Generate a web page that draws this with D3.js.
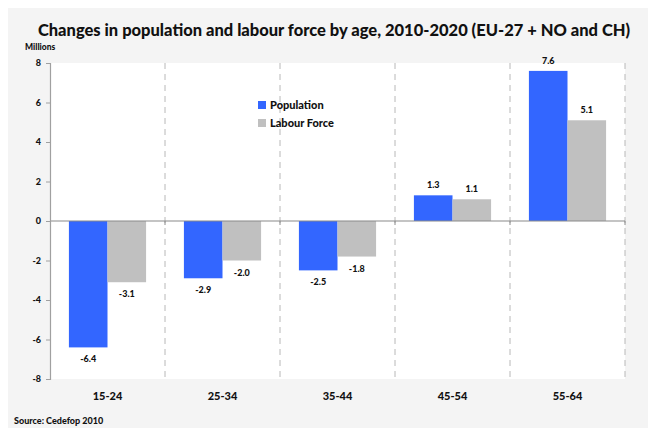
<!DOCTYPE html>
<html>
<head>
<meta charset="utf-8">
<script src="https://cdn.jsdelivr.net/npm/d3@7"></script>
<style>
  body { margin: 0; background: #fff; }
  text { font-family: Lato, "Open Sans", sans-serif; font-weight: 700; fill: #111; }
</style>
</head>
<body>
<div id="chart"></div>
<script>
const ageGroups = ["15-24", "25-34", "35-44", "45-54", "55-64"];
const population = [-6.4, -2.9, -2.5, 1.3, 7.6];
const labourForce = [-3.1, -2.0, -1.8, 1.1, 5.1];
const seriesNames = ["Population", "Labour Force"];
const seriesColors = ["#3366ff", "#c0c0c0"];
const yTicks = [-8, -6, -4, -2, 0, 2, 4, 6, 8];

const W = 648, H = 428;
const margin = { top: 63, right: 23, bottom: 49, left: 50 };
const width = W - margin.left - margin.right;
const height = H - margin.top - margin.bottom;

// hyphen instead of unicode minus, like the original
const fmt1 = v => d3.format(".1f")(v).replace("\u2212", "-");
const fmt0 = v => d3.format("d")(v).replace("\u2212", "-");

const svg = d3.select("#chart").append("svg")
  .attr("width", W).attr("height", H);

svg.append("rect")
  .attr("x", 8).attr("y", 8)
  .attr("width", W - 8).attr("height", H - 8)
  .attr("fill", "#f4f4f4");

svg.append("text")
  .attr("x", 334).attr("y", 36)
  .attr("text-anchor", "middle")
  .style("font-size", "16.5px")
  .style("font-weight", "900")
  .text("Changes in population and labour force by age, 2010-2020 (EU-27 + NO and CH)");

svg.append("text")
  .attr("x", 25).attr("y", 50)
  .style("font-size", "8.5px")
  .style("font-weight", "900")
  .text("Millions");

svg.append("text")
  .attr("x", 14).attr("y", 424)
  .style("font-size", "9px")
  .style("font-weight", "900")
  .text("Source: Cedefop 2010");

const g = svg.append("g")
  .attr("transform", `translate(${margin.left},${margin.top})`);

g.append("rect")
  .attr("width", width).attr("height", height)
  .attr("fill", "#fff");

const x0 = d3.scaleBand().domain(ageGroups).range([0, width]).paddingInner(0).paddingOuter(0);
const x1 = d3.scaleBand().domain(seriesNames).range([0, x0.bandwidth()]).paddingOuter(0.49).paddingInner(0);
const y = d3.scaleLinear().domain([-8, 8]).range([height, 0]);

// dashed category dividers
g.selectAll(".divider")
  .data(ageGroups)
  .join("line")
  .attr("x1", d => x0(d) + x0.bandwidth())
  .attr("x2", d => x0(d) + x0.bandwidth())
  .attr("y1", 0).attr("y2", height)
  .attr("stroke", "#b8b8b8")
  .attr("stroke-width", 1)
  .attr("stroke-dasharray", "6,5");

const rows = ageGroups.map((a, i) => ({ age: a, values: [population[i], labourForce[i]] }));

const groups = g.selectAll(".grp")
  .data(rows)
  .join("g")
  .attr("transform", d => `translate(${x0(d.age)},0)`);

groups.selectAll("rect")
  .data(d => d.values.map((v, j) => ({ name: seriesNames[j], v, j })))
  .join("rect")
  .attr("x", d => x1(d.name))
  .attr("width", x1.bandwidth())
  .attr("y", d => y(Math.max(0, d.v)))
  .attr("height", d => Math.abs(y(d.v) - y(0)))
  .attr("fill", d => seriesColors[d.j]);

groups.selectAll(".val")
  .data(d => d.values.map((v, j) => ({ name: seriesNames[j], v, j })))
  .join("text")
  .attr("class", "val")
  .attr("x", d => x1(d.name) + x1.bandwidth() / 2)
  .attr("y", d => d.v >= 0 ? y(d.v) - 7 : y(d.v) + 15)
  .attr("text-anchor", "middle")
  .style("font-size", "9px")
  .style("font-weight", "900")
  .text(d => fmt1(d.v));

// zero line with category ticks
const zero = g.append("g").attr("transform", `translate(0,${y(0)})`);
zero.append("line")
  .attr("x1", 0).attr("x2", width)
  .attr("stroke", "#8a8a8a").attr("stroke-width", 1.2);
zero.selectAll(".ztick")
  .data(ageGroups)
  .join("line")
  .attr("x1", d => x0(d) + x0.bandwidth())
  .attr("x2", d => x0(d) + x0.bandwidth())
  .attr("y1", 0).attr("y2", 4)
  .attr("stroke", "#8a8a8a");

// y axis
const yAxis = g.append("g")
  .call(d3.axisLeft(y).tickValues(yTicks).tickSize(4).tickPadding(5).tickFormat(fmt0));
yAxis.select(".domain").attr("stroke", "#a0a0a0").attr("stroke-width", 1.2);
yAxis.selectAll(".tick line").attr("stroke", "#a0a0a0");
yAxis.selectAll(".tick text")
  .style("font-family", "Lato, sans-serif")
  .style("font-weight", "900")
  .style("font-size", "9px")
  .attr("fill", "#111");

// category labels
g.selectAll(".cat")
  .data(ageGroups)
  .join("text")
  .attr("class", "cat")
  .attr("x", d => x0(d) + x0.bandwidth() / 2)
  .attr("y", height + 21)
  .attr("text-anchor", "middle")
  .style("font-size", "11px")
  .style("font-weight", "900")
  .text(d => d);

// legend
const legend = svg.append("g").attr("transform", "translate(258,101)");
seriesNames.forEach((n, i) => {
  const row = legend.append("g").attr("transform", `translate(0,${i * 18})`);
  row.append("rect").attr("width", 8).attr("height", 8).attr("fill", seriesColors[i]);
  row.append("text").attr("x", 12).attr("y", 8)
    .style("font-size", "11px").style("font-weight", "900").text(n);
});
</script>
</body>
</html>
